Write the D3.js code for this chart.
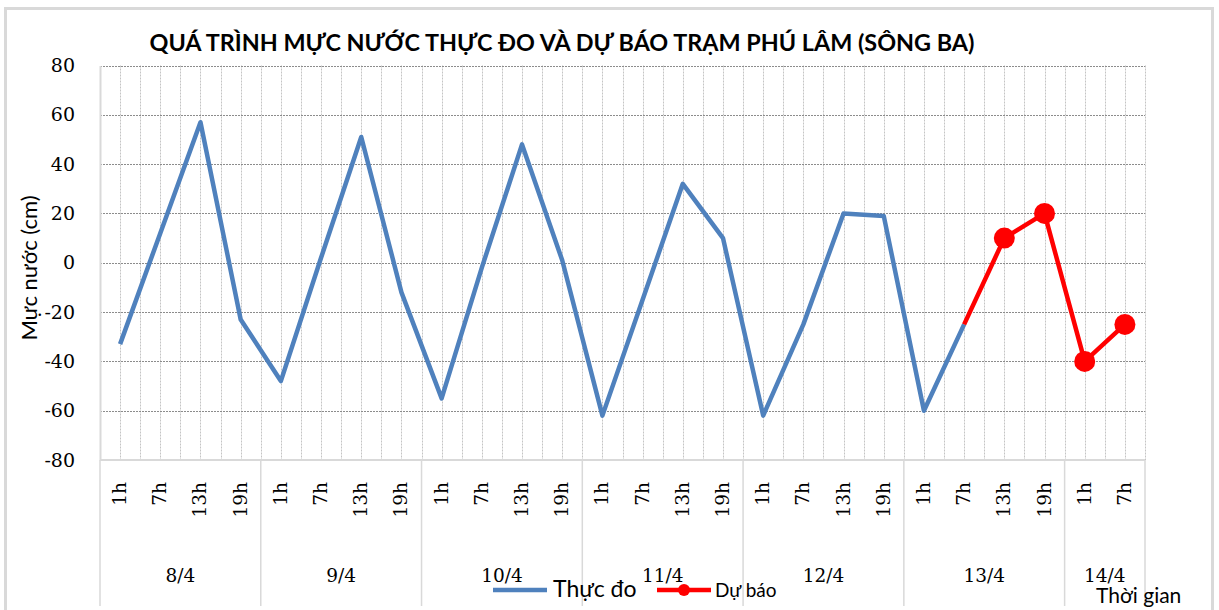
<!DOCTYPE html>
<html>
<head>
<meta charset="utf-8">
<script src="https://cdn.jsdelivr.net/npm/d3@7"></script>
<style>
  body { margin: 0; background: #fff; }
  svg { display: block; }
</style>
</head>
<body>
<svg id="chart" width="1219" height="610"></svg>
<script>
const title = 'QUÁ TRÌNH MỰC NƯỚC THỰC ĐO VÀ DỰ BÁO TRẠM PHÚ LÂM (SÔNG BA)';
const hourLabels = ['1h', '7h', '13h', '19h', '1h', '7h', '13h', '19h', '1h', '7h', '13h', '19h',
  '1h', '7h', '13h', '19h', '1h', '7h', '13h', '19h', '1h', '7h', '13h', '19h', '1h', '7h'];
const dayLabels = ['8/4', '9/4', '10/4', '11/4', '12/4', '13/4', '14/4'];
const daySpans = [4, 4, 4, 4, 4, 4, 2];
const measured = [-33, 12, 57, -23, -48, 2, 51, -12, -55, -2, 48, 1,
  -62, -15, 32, 10, -62, -25, 20, 19, -60, -25, null, null, null, null];
const forecast = [null, null, null, null, null, null, null, null, null, null, null, null,
  null, null, null, null, null, null, null, null, null, -25, 10, 20, -40, -25];
const yTicks = [80, 60, 40, 20, 0, -20, -40, -60, -80];

const sans = 'Lato, "Noto Sans", sans-serif';
const serif = '"DejaVu Serif", serif';

const svg = d3.select('#chart');

// outer frame
svg.append('rect')
  .attr('x', 5.5).attr('y', 8.5)
  .attr('width', 1207).attr('height', 620)
  .attr('fill', 'none')
  .attr('stroke', '#d9d9d9')
  .attr('stroke-width', 3);

const plotL = 100, plotR = 1145, plotT = 65.5, plotB = 460;
const idx = d3.range(hourLabels.length);

const x = d3.scaleBand().domain(idx).range([plotL, plotR]).padding(0);
const bw = x.bandwidth();
const cx = i => x(i) + bw / 2;

const y = d3.scaleLinear().domain([-80, 80]).range([plotB, plotT]);

// vertical dotted grid (band edges and centres)
const vLines = [];
idx.forEach(i => { vLines.push(x(i)); vLines.push(cx(i)); });
vLines.push(plotR);
svg.append('g')
  .selectAll('line')
  .data(vLines.filter(v => v > plotL + 1))
  .join('line')
  .attr('x1', d => Math.round(d) + 0.5).attr('x2', d => Math.round(d) + 0.5)
  .attr('y1', plotT).attr('y2', plotB)
  .attr('stroke', '#c4c4c4')
  .attr('stroke-width', 1)
  .attr('stroke-dasharray', '2,1');

// horizontal dotted grid
svg.append('g')
  .selectAll('line')
  .data(yTicks.filter(t => t > -80))
  .join('line')
  .attr('x1', plotL).attr('x2', plotR)
  .attr('y1', d => Math.round(y(d)) + 0.5).attr('y2', d => Math.round(y(d)) + 0.5)
  .attr('stroke', '#8c8c8c')
  .attr('stroke-width', 1)
  .attr('stroke-dasharray', '2,1');

// y axis
const yAxis = svg.append('g')
  .attr('transform', `translate(${plotL},0)`)
  .call(d3.axisLeft(y).tickValues(yTicks).tickFormat(d => String(d)).tickSize(0).tickPadding(25));
yAxis.select('.domain').attr('stroke', '#d9d9d9').attr('stroke-width', 2);
yAxis.selectAll('text')
  .attr('font-family', serif)
  .attr('font-size', 19)
  .attr('fill', '#000');

// x axis line
svg.append('line')
  .attr('x1', plotL).attr('x2', plotR)
  .attr('y1', plotB).attr('y2', plotB)
  .attr('stroke', '#d9d9d9').attr('stroke-width', 2);

// day separators
let acc = 0;
const dayStarts = daySpans.map(s => { const st = acc; acc += s; return st; });
const sepX = dayStarts.map(s => x(s)).concat([plotR]);
svg.append('g')
  .selectAll('line')
  .data(sepX)
  .join('line')
  .attr('x1', d => d).attr('x2', d => d)
  .attr('y1', plotB).attr('y2', 606)
  .attr('stroke', '#d9d9d9').attr('stroke-width', 1.5);

// hour labels
svg.append('g')
  .selectAll('text')
  .data(idx)
  .join('text')
  .attr('transform', i => `translate(${cx(i) + 6},482) rotate(-90)`)
  .attr('text-anchor', 'end')
  .attr('font-family', serif)
  .attr('font-size', 18.5)
  .attr('fill', '#000')
  .text(i => hourLabels[i]);

// day labels
svg.append('g')
  .selectAll('text')
  .data(dayLabels)
  .join('text')
  .attr('x', (d, k) => (x(dayStarts[k]) + x(dayStarts[k] + daySpans[k] - 1) + bw) / 2)
  .attr('y', 582)
  .attr('text-anchor', 'middle')
  .attr('font-family', serif)
  .attr('font-size', 18.5)
  .attr('fill', '#000')
  .text(d => d);

// series
const line = d3.line()
  .defined(d => d.v !== null)
  .x(d => cx(d.i))
  .y(d => y(d.v));

svg.append('path')
  .datum(measured.map((v, i) => ({ i, v })))
  .attr('d', line)
  .attr('fill', 'none')
  .attr('stroke', '#4f81bd')
  .attr('stroke-width', 4.5)
  .attr('stroke-linejoin', 'round');

const fData = forecast.map((v, i) => ({ i, v }));
svg.append('path')
  .datum(fData)
  .attr('d', line)
  .attr('fill', 'none')
  .attr('stroke', '#ff0000')
  .attr('stroke-width', 4.5)
  .attr('stroke-linejoin', 'round');

svg.append('g')
  .selectAll('circle')
  .data(fData.filter(d => d.v !== null && measured[d.i] === null))
  .join('circle')
  .attr('cx', d => cx(d.i))
  .attr('cy', d => y(d.v))
  .attr('r', 10.5)
  .attr('fill', '#ff0000');

// title
svg.append('text')
  .attr('x', 562).attr('y', 51)
  .attr('text-anchor', 'middle')
  .attr('font-family', sans)
  .attr('font-weight', 'bold')
  .attr('font-size', 23)
  .attr('textLength', 825)
  .attr('lengthAdjust', 'spacingAndGlyphs')
  .attr('fill', '#000')
  .text(title);

// y axis title
svg.append('text')
  .attr('transform', 'translate(37,268) rotate(-90)')
  .attr('text-anchor', 'middle')
  .attr('font-family', sans)
  .attr('font-size', 22)
  .attr('fill', '#000')
  .text('Mực nước (cm)');

// x axis title
svg.append('text')
  .attr('x', 1096).attr('y', 603)
  .attr('font-family', sans)
  .attr('font-size', 21)
  .attr('fill', '#000')
  .text('Thời gian');

// legend
const lg = svg.append('g');
lg.append('line')
  .attr('x1', 493).attr('x2', 547).attr('y1', 590).attr('y2', 590)
  .attr('stroke', '#4f81bd').attr('stroke-width', 4.5);
lg.append('text')
  .attr('x', 553).attr('y', 597)
  .attr('font-family', sans).attr('font-size', 23).attr('fill', '#000')
  .text('Thực đo');
lg.append('line')
  .attr('x1', 657).attr('x2', 711).attr('y1', 590).attr('y2', 590)
  .attr('stroke', '#ff0000').attr('stroke-width', 4.5);
lg.append('circle')
  .attr('cx', 684).attr('cy', 590).attr('r', 6).attr('fill', '#ff0000');
lg.append('text')
  .attr('x', 715).attr('y', 597)
  .attr('font-family', sans).attr('font-size', 19).attr('fill', '#000')
  .text('Dự báo');
</script>
</body>
</html>
